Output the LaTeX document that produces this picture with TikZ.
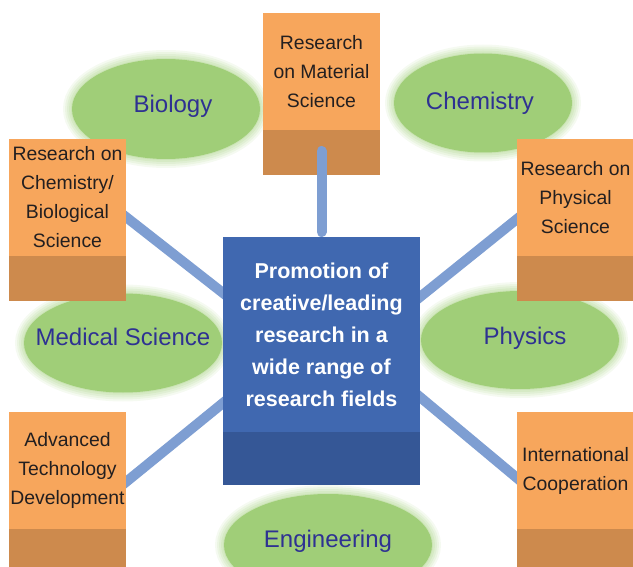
\documentclass[tikz,border=0pt]{standalone}
\usepackage{fontspec}
\setmainfont{Liberation Sans}
\definecolor{fieldorange}{RGB}{247,166,92}
\definecolor{fieldbrown}{RGB}{205,138,77}
\definecolor{promoblue}{RGB}{64,104,176}
\definecolor{promodark}{RGB}{53,87,150}
\definecolor{linkblue}{RGB}{126,158,210}
\definecolor{leafgreen}{RGB}{160,206,120}
\definecolor{fieldnavy}{RGB}{46,49,146}
\definecolor{inkblack}{RGB}{35,31,32}
\usetikzlibrary{shapes.geometric, positioning, backgrounds}

\begin{document}
\begin{tikzpicture}[
      x=1pt, y=-1pt,
      topic/.style={
          fill=fieldorange,
          minimum width=117pt,
          minimum height=117pt,
          inner sep=0pt, outer sep=0pt,
          text=inkblack,
          font=\fontsize{19.4}{29}\selectfont,
          align=center
        },
      topicbase/.style={
          fill=fieldbrown,
          minimum width=117pt,
          minimum height=45pt,
          inner sep=0pt, outer sep=0pt
        },
      promobox/.style={
          fill=promoblue,
          minimum width=197pt,
          minimum height=195pt,
          inner sep=0pt, outer sep=0pt,
          text=white,
          font=\fontsize{21.5}{32}\selectfont\bfseries,
          align=center
        },
      promobase/.style={
          fill=promodark,
          minimum width=197pt,
          minimum height=53pt,
          inner sep=0pt, outer sep=0pt
        },
      field/.style={
          ellipse,
          fill=leafgreen,
          inner sep=0pt,
          preaction={draw=leafgreen, line width=18pt, opacity=0.1},
          preaction={draw=leafgreen, line width=14pt, opacity=0.12},
          preaction={draw=leafgreen, line width=10pt, opacity=0.14},
          preaction={draw=leafgreen, line width=6pt, opacity=0.16},
          preaction={draw=leafgreen, line width=2pt, opacity=0.2}
        },
      fieldtext/.style={text=fieldnavy, font=\fontsize{24}{28}\selectfont},
      link/.style={linkblue, line width=10pt}
    ]
    \useasboundingbox (0,0) rectangle (633,567);

    \node[field, minimum width=188pt, minimum height=100pt,
          label={[fieldtext, xshift=7pt, yshift=3pt]center:Biology}] (biology) at (166,109) {};
    \node[field, minimum width=178pt, minimum height=99pt,
          label={[fieldtext, xshift=-3pt]center:Chemistry}] (chemistry) at (483,103) {};
    \node[field, minimum width=198pt, minimum height=99pt,
          label={[fieldtext, yshift=6pt]center:Medical Science}] (medical) at (123,343) {};
    \node[field, minimum width=198pt, minimum height=98pt,
          label={[fieldtext, xshift=5pt, yshift=2pt]center:Physics}] (physics) at (520,340) {};
    \node[field, minimum width=208pt, minimum height=102pt,
          label={[fieldtext, yshift=4pt]center:Engineering}] (engineering) at (328,545) {};

    \node[topic] (matsci) at (321.5,71.5) {Research\\on Material\\Science};
    \node[topicbase, below=0pt of matsci] (matsci-base) {};
    \node[topic] (chembio) at (67.5,197.5) {Research on\\Chemistry/\\Biological\\Science};
    \node[topicbase, below=0pt of chembio] (chembio-base) {};
    \node[topic] (physsci) at (575.5,197.5) {Research on\\Physical\\Science};
    \node[topicbase, below=0pt of physsci] (physsci-base) {};
    \node[topic] (advtech) at (67.5,470.5) {Advanced\\Technology\\Development};
    \node[topicbase, below=0pt of advtech] (advtech-base) {};
    \node[topic] (intl) at (575.5,470.5) {International\\Cooperation};
    \node[topicbase, below=0pt of intl] (intl-base) {};

    \node[promobox] (promo) at (321.5,334.5) {Promotion of\\creative/leading\\research in a\\wide range of\\research fields};
    \node[promobase, below=0pt of promo] (promo-base) {};

    \begin{scope}[on background layer]
      \draw[link, shorten <=-8pt, shorten >=-8pt] ([yshift=-19.5pt]chembio.east) -- ([yshift=41.5pt]promo.west);
      \draw[link, shorten <=-8pt, shorten >=-8pt] ([yshift=-21.5pt]physsci.west) -- ([yshift=37.5pt]promo.east);
      \draw[link, shorten <=-8pt, shorten >=-8pt] ([yshift=-11.5pt]advtech.east) -- ([yshift=-68.5pt]promo.west);
      \draw[link, shorten <=-8pt, shorten >=-8pt] ([yshift=-7.5pt]intl.west) -- ([yshift=-62.5pt]promo.east);
    \end{scope}
    \draw[link, line cap=round, shorten >=5pt] ([yshift=-21pt]matsci-base.north) -- (promo.north);
  \end{tikzpicture}
\end{document}
